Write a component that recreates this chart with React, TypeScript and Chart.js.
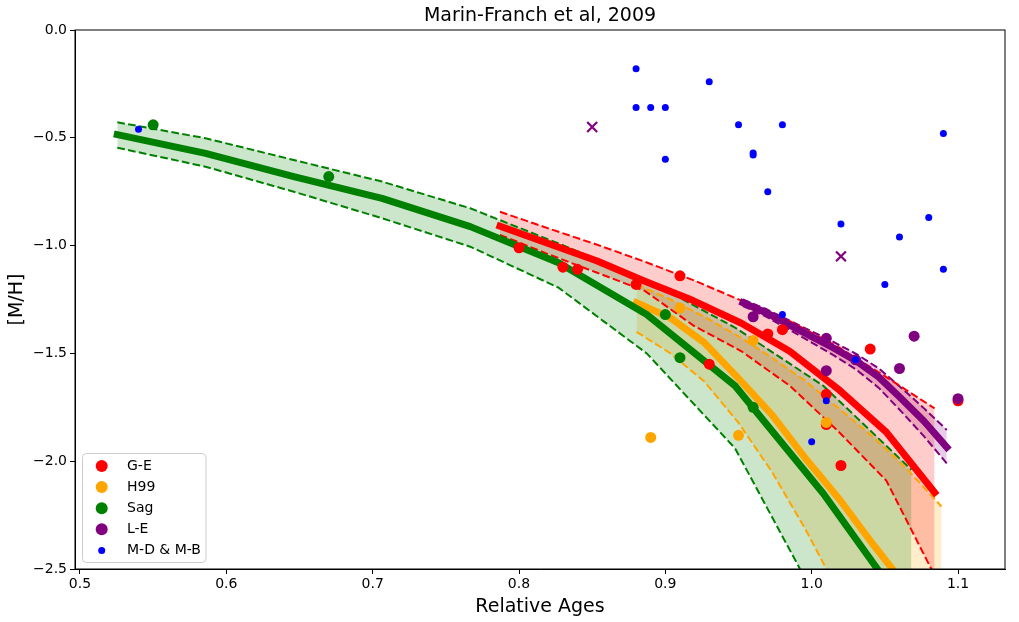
import React, { useEffect, useRef } from 'react';
import { Chart, registerables } from 'chart.js';

Chart.register(...registerables);

const FONT = 'DejaVu Sans';

// axis ranges and ticks
const xMin = 0.4966;
const xMax = 1.1321;
const xTicks = [0.5, 0.6, 0.7, 0.8, 0.9, 1.0, 1.1];
const yTicks = [-2.5, -2.0, -1.5, -1.0, -0.5, 0.0];

// model relations: age grid, best fit, upper / lower envelope
const sagFitAge = [0.5255, 0.5858, 0.6461, 0.7064, 0.7667, 0.827, 0.8873, 0.9476, 1.0079, 1.0682];
const sagFitMid = [-0.485, -0.572, -0.68, -0.781, -0.912, -1.08, -1.32, -1.65, -2.15, -2.72];
const sagFitHi = [-0.428, -0.502, -0.603, -0.703, -0.827, -0.99, -1.16, -1.38, -1.65, -2.04];
const sagFitLo = [-0.546, -0.634, -0.75, -0.873, -1.005, -1.195, -1.5, -1.94, -2.7, -3.5];

const geFitAge = [0.787, 0.82, 0.853, 0.886, 0.919, 0.952, 0.985, 1.018, 1.051, 1.084];
const geFitMid = [-0.91, -0.99, -1.07, -1.165, -1.255, -1.36, -1.49, -1.665, -1.865, -2.145];
const geFitHi = [-0.843, -0.92, -0.995, -1.075, -1.16, -1.255, -1.35, -1.47, -1.61, -1.755];
const geFitLo = [-0.95, -1.04, -1.125, -1.21, -1.37, -1.49, -1.65, -1.86, -2.09, -2.53];

const h99FitAge = [0.8803, 0.9035, 0.9266, 0.9498, 0.9729, 0.9961, 1.0193, 1.0424, 1.0656, 1.0887];
const h99FitMid = [-1.265, -1.335, -1.45, -1.615, -1.785, -1.99, -2.18, -2.39, -2.59, -2.79];
const h99FitHi = [-1.18, -1.25, -1.33, -1.42, -1.52, -1.63, -1.76, -1.89, -2.04, -2.21];
const h99FitLo = [-1.4, -1.5, -1.63, -1.82, -2.05, -2.32, -2.62, -2.95, -3.3, -3.7];

const leFitAge = [0.953, 0.9685, 0.984, 0.9994, 1.0149, 1.0304, 1.0459, 1.0613, 1.0768, 1.0923];
const leFitMid = [-1.265, -1.31, -1.365, -1.42, -1.475, -1.535, -1.61, -1.71, -1.815, -1.935];
const leFitHi = [-1.25, -1.293, -1.345, -1.396, -1.447, -1.502, -1.57, -1.66, -1.755, -1.855];
const leFitLo = [-1.28, -1.328, -1.387, -1.447, -1.508, -1.575, -1.66, -1.77, -1.885, -2.01];

// observed clusters
const geAge = [0.8, 0.83, 0.84, 0.88, 0.91, 0.93, 0.97, 0.98, 1.01, 1.01, 1.02, 1.04, 1.1];
const geMH = [-1.01, -1.1, -1.11, -1.18, -1.14, -1.55, -1.41, -1.39, -1.69, -1.83, -2.02, -1.48, -1.72];

const h99Age = [0.89, 0.91, 0.95, 0.96, 1.01];
const h99MH = [-1.89, -1.29, -1.88, -1.44, -1.82];

const sagAge = [0.55, 0.67, 0.9, 0.91, 0.96];
const sagMH = [-0.44, -0.68, -1.32, -1.52, -1.75];

const leAge = [0.96, 1.01, 1.01, 1.03, 1.06, 1.07, 1.1];
const leMH = [-1.33, -1.43, -1.58, -1.53, -1.57, -1.42, -1.71];

const crossAge = [0.85, 1.02];
const crossMH = [-0.45, -1.05];

const mdAge = [0.54, 0.88, 0.93, 0.88, 0.89, 0.9, 0.95, 0.98, 1.09, 0.9, 0.96, 0.96, 0.97, 1.02, 1.08, 1.06, 1.09, 1.05, 0.98, 1.03, 1.01, 1.0];
const mdMH = [-0.46, -0.18, -0.24, -0.36, -0.36, -0.36, -0.44, -0.44, -0.48, -0.6, -0.57, -0.58, -0.75, -0.9, -0.87, -0.96, -1.11, -1.18, -1.32, -1.53, -1.72, -1.91];

const legendLabels = ['G-E', 'H99', 'Sag', 'L-E', 'M-D & M-B'];
const legendColors = ['#ff0000', '#ffa500', '#008000', '#800080', '#0000ff'];
const legendSizes = [6, 6, 6, 6, 3.5];

const pts = (xs: number[], ys: number[]) => xs.map((x, i) => ({ x, y: ys[i] }));

const dash = [7.7, 3.3];

function band(age: number[], mid: number[], hi: number[], lo: number[], color: string, fillColor: string) {
  return [
    {
      data: pts(age, hi), borderColor: color, borderWidth: 2, borderDash: dash,
      fill: '+1', backgroundColor: fillColor, pointRadius: 0, clip: 0, order: 50,
    },
    {
      data: pts(age, lo), borderColor: color, borderWidth: 2, borderDash: dash,
      fill: false, pointRadius: 0, clip: 0, order: 50,
    },
    {
      data: pts(age, mid), borderColor: color, borderWidth: 7, borderCapStyle: 'square',
      borderJoinStyle: 'round', fill: false, pointRadius: 0, clip: 0, order: 40,
    },
  ];
}

function dots(age: number[], mh: number[], color: string, r: number, order: number) {
  return {
    data: pts(age, mh), showLine: false, pointRadius: r, pointBorderWidth: 0,
    pointBackgroundColor: color, pointHoverRadius: r, order,
  };
}

const framePlugin = {
  id: 'frame',
  afterDraw(chart: any) {
    const { ctx, chartArea: a } = chart;
    ctx.save();
    ctx.strokeStyle = '#000';
    ctx.lineWidth = 1;
    ctx.strokeRect(a.left, a.top, a.right - a.left, a.bottom - a.top);

    ctx.fillStyle = '#000';
    ctx.font = `19px "${FONT}"`;
    ctx.textAlign = 'center';
    ctx.textBaseline = 'middle';
    ctx.fillText('Marin-Franch et al, 2009', (a.left + a.right) / 2, 16);

    // legend
    const bx = 82.5, by = 453.5, bw = 123.5, bh = 109;
    ctx.beginPath();
    ctx.roundRect(bx, by, bw, bh, 4);
    ctx.fillStyle = 'rgba(255,255,255,0.8)';
    ctx.fill();
    ctx.strokeStyle = '#cccccc';
    ctx.stroke();
    ctx.font = `14px "${FONT}"`;
    ctx.textAlign = 'left';
    legendLabels.forEach((label, i) => {
      const y = 466 + i * 21.1;
      ctx.beginPath();
      ctx.arc(101.7, y, legendSizes[i], 0, Math.PI * 2);
      ctx.fillStyle = legendColors[i];
      ctx.fill();
      ctx.fillStyle = '#000';
      ctx.fillText(label, 127, y);
    });
    ctx.restore();
  },
};

const App: React.FC = () => {
  const canvasRef = useRef<HTMLCanvasElement | null>(null);

  useEffect(() => {
    const ctx = canvasRef.current?.getContext('2d');
    if (!ctx) return;

    const chart = new Chart(ctx, {
      type: 'line',
      data: {
        datasets: [
          ...band(sagFitAge, sagFitMid, sagFitHi, sagFitLo, '#008000', 'rgba(0,128,0,0.2)'),
          ...band(geFitAge, geFitMid, geFitHi, geFitLo, '#ff0000', 'rgba(255,0,0,0.2)'),
          ...band(h99FitAge, h99FitMid, h99FitHi, h99FitLo, '#ffa500', 'rgba(255,165,0,0.2)'),
          ...band(leFitAge, leFitMid, leFitHi, leFitLo, '#800080', 'rgba(128,0,128,0.2)'),
          dots(geAge, geMH, '#ff0000', 5.5, 6),
          dots(h99Age, h99MH, '#ffa500', 5.5, 5),
          dots(sagAge, sagMH, '#008000', 5.5, 4),
          dots(leAge, leMH, '#800080', 5.5, 3),
          {
            data: pts(crossAge, crossMH), showLine: false, pointStyle: 'crossRot',
            pointRadius: 7, pointBorderWidth: 2.2, pointBorderColor: '#800080', order: 2,
          },
          dots(mdAge, mdMH, '#0000ff', 3.5, 1),
        ] as any,
      },
      plugins: [framePlugin],
      options: {
        animation: false,
        responsive: false,
        events: [],
        layout: { padding: { top: 30, right: 14, left: 0, bottom: 0 } },
        plugins: {
          legend: { display: false },
          tooltip: { enabled: false },
          filler: { drawTime: 'beforeDatasetsDraw' },
        },
        scales: {
          x: {
            type: 'linear',
            min: xMin,
            max: xMax,
            afterBuildTicks: (axis: any) => { axis.ticks = xTicks.map((value) => ({ value })); },
            afterFit: (s: any) => { s.height = 53; },
            ticks: {
              callback: (v: any) => Number(v).toFixed(1),
              font: { family: FONT, size: 14 },
              color: '#000',
              padding: 2,
              maxRotation: 0,
            },
            grid: { drawOnChartArea: false, tickLength: 5, color: '#000' },
            border: { color: '#000' },
            title: {
              display: true, text: 'Relative Ages', color: '#000',
              font: { family: FONT, size: 19 }, padding: { top: 0, bottom: 4 },
            },
          },
          y: {
            type: 'linear',
            min: -2.5,
            max: 0,
            afterBuildTicks: (axis: any) => { axis.ticks = yTicks.map((value) => ({ value })); },
            afterFit: (s: any) => { s.width = 75; },
            ticks: {
              callback: (v: any) => Number(v).toFixed(1).replace('-', '\u2212'),
              font: { family: FONT, size: 14 },
              color: '#000',
              padding: 3,
            },
            grid: { drawOnChartArea: false, tickLength: 5, color: '#000' },
            border: { color: '#000' },
            title: {
              display: true, text: '[M/H]', color: '#000',
              font: { family: FONT, size: 19 }, padding: { top: 6, bottom: 0 },
            },
          },
        },
      } as any,
    });

    return () => {
      chart.destroy();
    };
  }, []);

  return (
    <div style={{ position: 'absolute', left: 0, top: 0, width: 1019, height: 622, background: '#fff' }}>
      <canvas ref={canvasRef} width={1019} height={622}></canvas>
    </div>
  );
};

export default App;
